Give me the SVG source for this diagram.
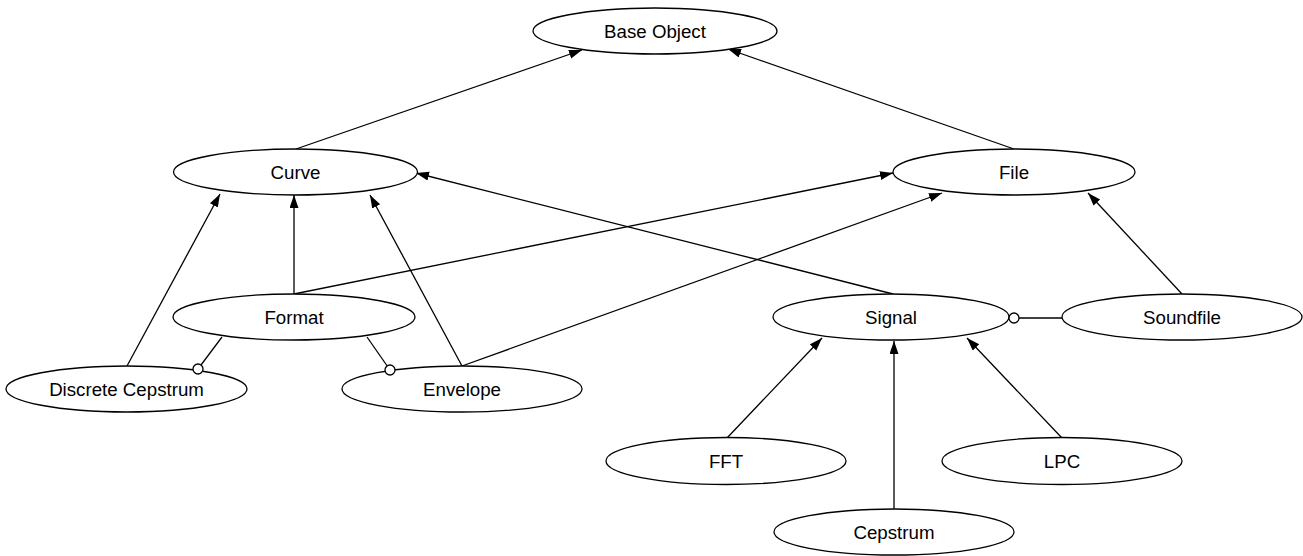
<svg xmlns="http://www.w3.org/2000/svg" width="1303" height="556" viewBox="0 0 1303 556">
  <style>
    .node ellipse { fill: #ffffff; stroke: #000000; stroke-width: 1.3; }
    .node text { font-family: "Liberation Sans", Arial, Helvetica, sans-serif; font-size: 18.7px; fill: #000000; text-anchor: middle; }
    .edge { stroke: #000000; stroke-width: 1.3; fill: none; }
    .arrow { marker-end: url(#head); }
    .dot { fill: #ffffff; stroke: #000000; stroke-width: 1.3; }
  </style>
  <defs>
    <marker id="head" markerUnits="userSpaceOnUse" markerWidth="14" markerHeight="10" refX="13" refY="4.5" orient="auto">
      <path d="M0,0 L13,4.5 L0,9 Z" fill="#000000"/>
    </marker>
  </defs>
  <rect width="1303" height="556" fill="#ffffff"/>

  <g id="connectors">
    <line class="edge arrow" x1="296" y1="149" x2="582" y2="50"/>
    <line class="edge arrow" x1="1014" y1="149" x2="728" y2="49"/>
    <line class="edge arrow" x1="893" y1="294" x2="416" y2="173"/>
    <line class="edge arrow" x1="294" y1="294" x2="294" y2="195"/>
    <line class="edge arrow" x1="294" y1="294" x2="893" y2="173"/>
    <line class="edge arrow" x1="462" y1="366" x2="370" y2="195"/>
    <line class="edge arrow" x1="462" y1="366" x2="942" y2="193"/>
    <line class="edge arrow" x1="127" y1="366" x2="220" y2="194"/>
    <line class="edge arrow" x1="1182" y1="294" x2="1088" y2="193"/>
    <line class="edge arrow" x1="727" y1="438" x2="822" y2="338"/>
    <line class="edge arrow" x1="894" y1="509" x2="894" y2="341"/>
    <line class="edge arrow" x1="1062" y1="438" x2="967" y2="338"/>
    <line class="edge" x1="222" y1="337" x2="198" y2="369"/>
    <line class="edge" x1="367" y1="337" x2="390" y2="370"/>
    <line class="edge" x1="1014" y1="318" x2="1062" y2="318"/>
  </g>

  <g id="node-base-object" class="node">
    <ellipse cx="655" cy="31" rx="122" ry="23"/>
    <text x="655" y="38">Base Object</text>
  </g>
  <g id="node-curve" class="node">
    <ellipse cx="295.5" cy="172" rx="122" ry="23"/>
    <text x="295.5" y="179">Curve</text>
  </g>
  <g id="node-file" class="node">
    <ellipse cx="1014" cy="172" rx="121" ry="23"/>
    <text x="1014" y="179">File</text>
  </g>
  <g id="node-format" class="node">
    <ellipse cx="294" cy="317" rx="121" ry="23"/>
    <text x="294" y="324">Format</text>
  </g>
  <g id="node-signal" class="node">
    <ellipse cx="891" cy="317" rx="118" ry="23"/>
    <text x="891" y="324">Signal</text>
  </g>
  <g id="node-soundfile" class="node">
    <ellipse cx="1182" cy="317" rx="120" ry="23"/>
    <text x="1182" y="324">Soundfile</text>
  </g>
  <g id="node-discrete-cepstrum" class="node">
    <ellipse cx="126.5" cy="389" rx="120.5" ry="23"/>
    <text x="126.5" y="396">Discrete Cepstrum</text>
  </g>
  <g id="node-envelope" class="node">
    <ellipse cx="462" cy="389" rx="120" ry="23"/>
    <text x="462" y="396">Envelope</text>
  </g>
  <g id="node-fft" class="node">
    <ellipse cx="726" cy="461" rx="120" ry="23.5"/>
    <text x="726" y="468">FFT</text>
  </g>
  <g id="node-lpc" class="node">
    <ellipse cx="1062" cy="461" rx="120" ry="23.5"/>
    <text x="1062" y="468">LPC</text>
  </g>
  <g id="node-cepstrum" class="node">
    <ellipse cx="894" cy="532" rx="120" ry="23"/>
    <text x="894" y="539">Cepstrum</text>
  </g>

  <g id="aggregation-dots">
    <circle class="dot" cx="198" cy="369" r="5"/>
    <circle class="dot" cx="390" cy="370" r="5"/>
    <circle class="dot" cx="1014" cy="318" r="5"/>
  </g>
</svg>
